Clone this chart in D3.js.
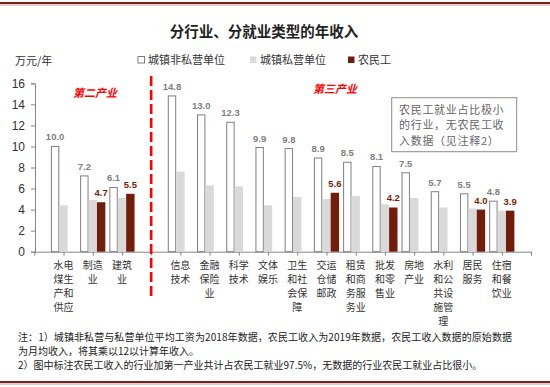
<!DOCTYPE html>
<meta charset="utf-8">
<script src="https://d3js.org/d3.v7.min.js"></script>
<style>
  body { margin: 0; background: #fff; }
  text { font-family: "Noto Sans CJK SC", "Liberation Sans", sans-serif; }
</style>
<div id="chart"></div>
<script>

// categories (full names, split into 2-char lines for the axis)
var industries = ["水电煤生产和供应", "制造业", "建筑业",
  "信息技术", "金融保险业", "科学技术", "文体娱乐", "卫生和社会保障", "交运仓储邮政",
  "租赁和商务服务业", "批发和零售业", "房地产业", "水利和公共设施管理", "居民服务", "住宿和餐饮业"];
var secondCount = 3;

// 万元/年
var nonPrivate = [10.0, 7.2, 6.1, 14.8, 13.0, 12.3, 9.9, 9.8, 8.9, 8.5, 8.1, 7.5, 5.7, 5.5, 4.8];
var privateUnit = [4.4, 4.9, 5.1, 7.6, 6.3, 6.2, 4.4, 5.2, 5.0, 5.3, 4.5, 5.1, 4.2, 4.1, 3.9];
var migrant = [null, 4.7, 5.5, null, null, null, null, null, 5.6, null, 4.2, null, null, 4.0, 3.9];

var yTicks = [0, 2, 4, 6, 8, 10, 12, 14, 16];
var seriesNames = ["城镇非私营单位", "城镇私营单位", "农民工"];

var W = 550, H = 387;
var svg = d3.select("#chart").append("svg")
  .attr("width", W).attr("height", H);

// frame lines top and bottom
svg.append("rect").attr("x", 0).attr("y", 2).attr("width", W).attr("height", 2).attr("fill", "#7d1f1f");
svg.append("rect").attr("x", 0).attr("y", 4.5).attr("width", W).attr("height", 1).attr("fill", "#c89a9a");
svg.append("rect").attr("x", 0).attr("y", 381).attr("width", W).attr("height", 2).attr("fill", "#7d1f1f");
svg.append("rect").attr("x", 0).attr("y", 383.5).attr("width", W).attr("height", 1).attr("fill", "#c89a9a");

// x slots: blank, 3 second industry, blank gap, third industry, blank end
var slots = ["_s"].concat(industries.slice(0, secondCount), ["_gap"], industries.slice(secondCount), ["_e"]);
var x = d3.scalePoint().domain(slots).range([34.3, 531]);
var y = d3.scaleLinear().domain([0, 16]).range([251.7, 83.3]);
var bw = 8.4;

// title
svg.append("text")
  .attr("x", 264).attr("y", 37)
  .attr("text-anchor", "middle")
  .style("font-size", "14.5px").style("font-weight", "bold").attr("fill", "#222")
  .text("分行业、分就业类型的年收入");

// unit
svg.append("text").attr("x", 15).attr("y", 65)
  .style("font-size", "11px").attr("fill", "#333").text("万元/年");

// legend
var legendX = [138, 250, 348];
var legendFill = ["#fff", "#d9d9d9", "#721c0a"];
var lg = svg.append("g").selectAll("g").data(seriesNames).enter().append("g")
  .attr("transform", function(d, i) { return "translate(" + legendX[i] + ",60)"; });
lg.append("rect").attr("x", 0).attr("y", -3.5).attr("width", 6.5).attr("height", 6.5)
  .attr("fill", function(d, i) { return legendFill[i]; })
  .attr("stroke", function(d, i) { return i == 0 ? "#7f7f7f" : "none"; });
lg.append("text").attr("x", 10).attr("y", 4)
  .style("font-size", "11px").attr("fill", "#333")
  .text(function(d) { return d; });

// Y axis
var yAxis = svg.append("g").attr("transform", "translate(35,0)")
  .call(d3.axisLeft(y).tickValues(yTicks).tickSize(4).tickPadding(6).tickFormat(d3.format("d")));
yAxis.select(".domain").attr("stroke", "#868686");
yAxis.selectAll(".tick line").attr("stroke", "#868686");
yAxis.selectAll(".tick text").attr("fill", "#333")
  .style("font-family", "'Liberation Sans', Arial, sans-serif").style("font-size", "12px");

// X axis
var xAxis = svg.append("g").attr("transform", "translate(0," + y(0) + ")")
  .call(d3.axisBottom(x).tickSize(4).tickSizeOuter(0).tickFormat(""));
xAxis.select(".domain").attr("stroke", "#868686");
xAxis.selectAll(".tick line").attr("stroke", "#868686");

// category labels, two characters per line
industries.forEach(function(name, i) {
  var lines = name.match(/.{1,2}/g);
  var t = svg.append("text")
    .attr("text-anchor", "middle")
    .style("font-size", "10px").attr("fill", "#333");
  lines.forEach(function(l, j) {
    t.append("tspan").attr("x", x(name)).attr("y", 268.5 + j * 14.1).text(l);
  });
});

// bars
var gBars = svg.append("g");
industries.forEach(function(name, i) {
  var cx = x(name);
  var vals = [nonPrivate[i], privateUnit[i], migrant[i]];
  vals.forEach(function(v, k) {
    if (v == null) return;
    gBars.append("rect")
      .attr("x", cx - 1.5 * bw + k * bw + (k == 0 ? 0.5 : 0))
      .attr("y", y(v))
      .attr("width", k == 0 ? bw - 1 : bw)
      .attr("height", y(0) - y(v))
      .attr("fill", legendFill[k])
      .attr("stroke", k == 0 ? "#7f7f7f" : "none")
      .attr("stroke-width", 1);
  });
  // labels
  svg.append("text")
    .attr("x", cx - bw).attr("y", y(nonPrivate[i]) - 6)
    .attr("text-anchor", "middle")
    .style("font-family", "'Liberation Sans', Arial, sans-serif")
    .style("font-size", "9.5px").style("font-weight", "bold").attr("fill", "#808080")
    .text(d3.format(".1f")(nonPrivate[i]));
  if (migrant[i] != null) {
    svg.append("text")
      .attr("x", cx + bw).attr("y", y(migrant[i]) - 6)
      .attr("text-anchor", "middle")
      .style("font-family", "'Liberation Sans', Arial, sans-serif")
      .style("font-size", "9.5px").style("font-weight", "bold").attr("fill", "#7a1f08")
      .text(d3.format(".1f")(migrant[i]));
  }
});

// dashed divider
svg.append("line")
  .attr("x1", x("_gap")).attr("x2", x("_gap"))
  .attr("y1", 76).attr("y2", 300)
  .attr("stroke", "#ff0000").attr("stroke-width", 2.6)
  .attr("stroke-dasharray", "10,4");

// sector names
svg.append("text").attr("x", 73).attr("y", 97)
  .style("font-size", "11px").style("font-weight", "bold").style("font-style", "italic")
  .attr("fill", "#ff0000").text("第二产业");
svg.append("text").attr("x", 313).attr("y", 93)
  .style("font-size", "11px").style("font-weight", "bold").style("font-style", "italic")
  .attr("fill", "#ff0000").text("第三产业");

// note box
svg.append("rect").attr("x", 391.7).attr("y", 97.7).attr("width", 125).attr("height", 54)
  .attr("fill", "#fff").attr("stroke", "#8c8c8c").attr("stroke-width", 1);
var boxLines = ["农民工就业占比极小", "的行业，无农民工收", "入数据（见注释2）"];
boxLines.forEach(function(l, j) {
  svg.append("text").attr("x", 399).attr("y", 114 + j * 15.3)
    .style("font-size", "11px").style("letter-spacing", "0.7px").attr("fill", "#666")
    .text(l);
});

// footnotes
var notes = [
  "注：1）城镇非私营与私营单位平均工资为2018年数据，农民工收入为2019年数据，农民工收入数据的原始数据",
  "为月均收入，将其乘以12以计算年收入。",
  "2）图中标注农民工收入的行业加第一产业共计占农民工就业97.5%，无数据的行业农民工就业占比很小。"
];
var noteY = [341, 355, 369];
notes.forEach(function(l, j) {
  var t = svg.append("text").attr("x", 18).attr("y", noteY[j])
    .style("font-size", "10px").attr("fill", "#222")
    .text(l);
  if (j == 0) t.attr("textLength", 494).attr("lengthAdjust", "spacing");
});

</script>
